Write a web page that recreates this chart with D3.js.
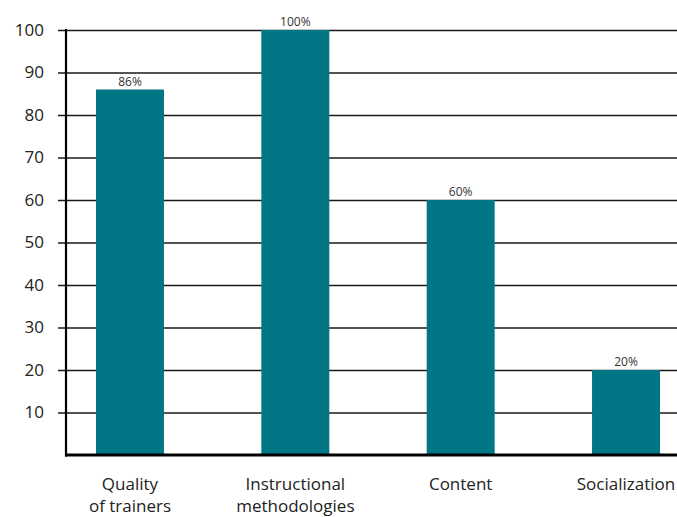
<!DOCTYPE html>
<html>
<head>
<meta charset="utf-8">
<script src="https://cdn.jsdelivr.net/npm/d3@7"></script>
<style>
  html, body { margin: 0; padding: 0; background: #fff; }
  svg { display: block; }
  text { font-family: "Open Sans", Lato, sans-serif; }
</style>
</head>
<body>
<svg id="chart" width="677" height="517"></svg>
<script>
// Share of respondents rating each training aspect positively
const categories = [["Quality", "of trainers"], ["Instructional", "methodologies"], ["Content"], ["Socialization"]];
const values = [86, 100, 60, 20];
const valueLabels = ["86%", "100%", "60%", "20%"];
const yTicks = [10, 20, 30, 40, 50, 60, 70, 80, 90, 100];

const W = 677, H = 517;
const margin = { top: 30, right: 0, bottom: 62, left: 66 };

const svg = d3.select("#chart");

const x = d3.scaleBand()
  .domain(d3.range(categories.length))
  .range([margin.left, 690])
  .paddingInner(0.589)
  .paddingOuter(0.1815);

const y = d3.scaleLinear()
  .domain([0, 100])
  .range([H - margin.bottom, margin.top]);

// horizontal gridlines with short tick stubs on the left
const grid = svg.append("g")
  .attr("transform", `translate(${margin.left},0)`)
  .call(d3.axisLeft(y).tickValues(yTicks).tickSize(-(W - margin.left)).tickSizeOuter(0).tickPadding(22))
  .call(g => g.select(".domain").remove());
grid.selectAll(".tick line")
  .attr("x1", -8)
  .attr("stroke", "#1a1a1a")
  .attr("stroke-width", 1.6);
grid.selectAll(".tick text")
  .attr("fill", "#222")
  .style("font-size", "17px");

// bars
svg.append("g")
  .selectAll("rect")
  .data(values)
  .join("rect")
  .attr("x", (d, i) => x(i))
  .attr("width", x.bandwidth())
  .attr("y", d => y(d))
  .attr("height", d => y(0) - y(d))
  .attr("fill", "#017786");

// value labels above bars
svg.append("g")
  .selectAll("text")
  .data(values)
  .join("text")
  .attr("x", (d, i) => x(i) + x.bandwidth() / 2)
  .attr("y", d => y(d) - 4)
  .attr("text-anchor", "middle")
  .attr("fill", "#333")
  .style("font-size", "12px")
  .text((d, i) => valueLabels[i]);

// axis lines
svg.append("line")
  .attr("x1", margin.left).attr("x2", margin.left)
  .attr("y1", y(100) - 1).attr("y2", y(0) + 1.5)
  .attr("stroke", "#000").attr("stroke-width", 2.2);
svg.append("line")
  .attr("x1", margin.left - 1).attr("x2", W)
  .attr("y1", y(0)).attr("y2", y(0))
  .attr("stroke", "#000").attr("stroke-width", 3);

// category labels
const cat = svg.append("g")
  .selectAll("text")
  .data(categories)
  .join("text")
  .attr("x", (d, i) => x(i) + x.bandwidth() / 2)
  .attr("y", y(0) + 35)
  .attr("text-anchor", "middle")
  .attr("fill", "#222")
  .style("font-size", "17px");
cat.selectAll("tspan")
  .data(d => d)
  .join("tspan")
  .attr("x", function () { return d3.select(this.parentNode).attr("x"); })
  .attr("dy", (d, i) => i === 0 ? 0 : 22)
  .text(d => d);
</script>
</body>
</html>
